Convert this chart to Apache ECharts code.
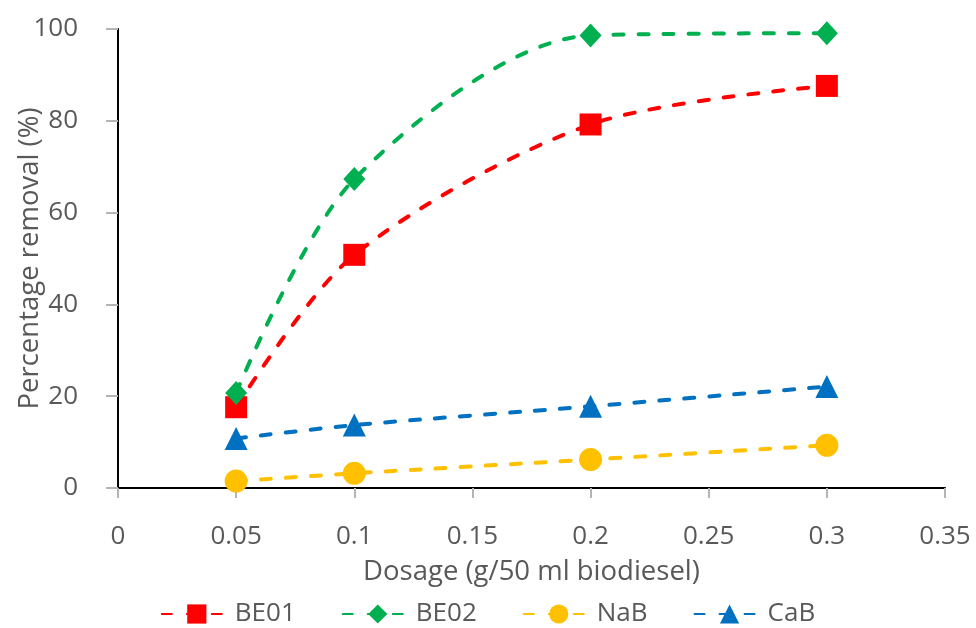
<!DOCTYPE html>
<html>
<head>
<meta charset="utf-8">
<script src="https://cdn.jsdelivr.net/npm/echarts@6/dist/echarts.min.js"></script>
<style>
  html, body { margin: 0; padding: 0; background: #fff; }
  #chart { width: 976px; height: 628px; }
</style>
</head>
<body>
<div id="chart"></div>
<script>
// Adsorbent dosage (g per 50 ml biodiesel)
const dosage = [0.05, 0.1, 0.2, 0.3];

// Percentage removal for each adsorbent
const be01 = [17.6, 50.8, 79.2, 87.6];
const be02 = [20.7, 67.3, 98.6, 99.1];
const nab  = [1.5, 3.2, 6.2, 9.3];
const cab  = [10.8, 13.7, 17.8, 22.1];

const seriesNames = ['BE01', 'BE02', 'NaB', 'CaB'];
const xTickLabels = ['0', '0.05', '0.1', '0.15', '0.2', '0.25', '0.3', '0.35'];
const yTickLabels = ['0', '20', '40', '60', '80', '100'];

const FONT = '"Open Sans", Lato, sans-serif';
const TEXT = '#595959';
const AXIS_GRAY = '#b4b4b4';

const pairs = vals => dosage.map((d, i) => [d, vals[i]]);

function makeSeries(name, vals, color, symbol, size) {
  return {
    name: name,
    type: 'line',
    data: pairs(vals),
    smooth: 0.3,
    symbol: symbol,
    symbolSize: size,
    showSymbol: true,
    clip: true,
    itemStyle: { color: color, opacity: 1 },
    lineStyle: { color: color, width: 4, type: [10, 15], cap: 'round' },
    emphasis: { disabled: true },
    z: 3
  };
}

const chart = echarts.init(document.getElementById('chart'), null, { renderer: 'canvas' });

chart.setOption({
  backgroundColor: '#ffffff',
  animation: false,
  textStyle: { fontFamily: FONT },
  grid: { left: 118, right: 31, top: 29, bottom: 140, containLabel: false, outerBoundsMode: 'none' },
  legend: {
    bottom: -4,
    left: 'center',
    itemWidth: 70,
    itemHeight: 24,
    itemGap: 46,
    data: seriesNames,
    textStyle: { color: TEXT, fontSize: 26, fontFamily: FONT, padding: [0, 0, 0, -2] }
  },
  xAxis: [
    {
      type: 'value',
      min: 0,
      max: 0.35,
      interval: 0.05,
      name: 'Dosage (g/50 ml biodiesel)',
      nameLocation: 'middle',
      nameGap: 70,
      nameTextStyle: { color: TEXT, fontSize: 27.5, fontFamily: FONT },
      axisLine: { show: true, lineStyle: { color: AXIS_GRAY, width: 2 } },
      axisTick: { show: true, inside: false, length: 10, lineStyle: { color: AXIS_GRAY, width: 2 } },
      axisLabel: {
        color: TEXT, fontSize: 26, fontFamily: FONT, margin: 36,
        formatter: v => xTickLabels[Math.round(v / 0.05)]
      },
      splitLine: { show: false }
    },
    {
      type: 'value',
      position: 'top',
      min: 0,
      max: 0.35,
      axisLine: { show: true, lineStyle: { color: '#000', width: 2 } },
      axisTick: { show: false },
      axisLabel: { show: false },
      splitLine: { show: false }
    }
  ],
  yAxis: [
    {
      type: 'value',
      min: 0,
      max: 100,
      interval: 20,
      name: 'Percentage removal (%)',
      nameLocation: 'middle',
      nameGap: 74,
      nameMoveOverlap: false,
      nameTextStyle: { color: TEXT, fontSize: 27.5, fontFamily: FONT },
      axisLine: { show: true, lineStyle: { color: AXIS_GRAY, width: 2 } },
      axisTick: { show: true, inside: false, length: 12, lineStyle: { color: AXIS_GRAY, width: 2 } },
      axisLabel: {
        color: TEXT, fontSize: 26, fontFamily: FONT, margin: 40,
        formatter: v => yTickLabels[Math.round(v / 20)]
      },
      splitLine: { show: false }
    },
    {
      type: 'value',
      position: 'right',
      min: 0,
      max: 100,
      axisLine: { show: true, lineStyle: { color: '#000', width: 2 } },
      axisTick: { show: false },
      axisLabel: { show: false },
      splitLine: { show: false }
    }
  ],
  series: [
    makeSeries(seriesNames[0], be01, '#ff0000', 'rect', 22),
    makeSeries(seriesNames[1], be02, '#00b050', 'diamond', [22, 24]),
    makeSeries(seriesNames[2], nab, '#ffc000', 'circle', 23),
    makeSeries(seriesNames[3], cab, '#0070c0', 'triangle', 23)
  ]
});
</script>
</body>
</html>
